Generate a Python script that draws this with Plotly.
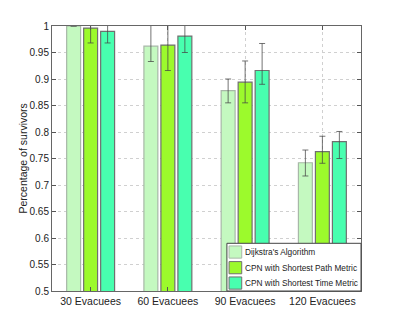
import plotly.graph_objects as go

categories = ["30 Evacuees", "60 Evacuees", "90 Evacuees", "120 Evacuees"]
series_names = ["Dijkstra's Algorithm", "CPN with Shortest Path Metric", "CPN with Shortest Time Metric"]

# survival ratio per group
dijkstra = [1.0, 0.962, 0.878, 0.742]
cpn_path = [0.996, 0.964, 0.894, 0.763]
cpn_time = [0.990, 0.981, 0.916, 0.782]

# error bars (upper / lower)
dijkstra_up = [0.0, 0.04, 0.022, 0.024]
dijkstra_down = [0.0, 0.029, 0.023, 0.025]
cpn_path_up = [0.028, 0.048, 0.040, 0.029]
cpn_path_down = [0.028, 0.048, 0.039, 0.022]
cpn_time_up = [0.022, 0.031, 0.051, 0.019]
cpn_time_down = [0.022, 0.031, 0.026, 0.032]

colors = ["#c4f9c0", "#9cfa2c", "#48ffaf"]
outline = ["#a8b8a8", "#707070", "#707070"]
font = "Liberation Sans, Arial"

fig = go.Figure()
data = [(dijkstra, dijkstra_up, dijkstra_down),
        (cpn_path, cpn_path_up, cpn_path_down),
        (cpn_time, cpn_time_up, cpn_time_down)]
for i, (vals, up, down) in enumerate(data):
    fig.add_trace(go.Bar(
        x=categories, y=vals, name=series_names[i], showlegend=False,
        marker=dict(color=colors[i], line=dict(color=outline[i], width=1.2)),
        error_y=dict(type="data", array=up, arrayminus=down, symmetric=False,
                     color="rgba(70,70,70,0.75)", thickness=1, width=3),
    ))

# matlab-style legend box in the lower right corner (paper coords)
fig.add_shape(type="rect", xref="paper", yref="paper", x0=0.566, x1=1.0, y0=0.0, y1=0.18,
              fillcolor="white", line=dict(color="#444", width=1), layer="above")
row_y = [0.147, 0.088, 0.030]
for i, name in enumerate(series_names):
    fig.add_shape(type="rect", xref="paper", yref="paper", x0=0.573, x1=0.614,
                  y0=row_y[i] - 0.023, y1=row_y[i] + 0.023,
                  fillcolor=colors[i], line=dict(color=outline[i], width=1), layer="above")
    fig.add_annotation(x=0.617, y=row_y[i], xref="paper", yref="paper", text=name,
                       showarrow=False, xanchor="left", yanchor="middle",
                       font=dict(family=font, size=8.3, color="#222"))

# y title as annotation so it sits closer to the tick labels
fig.add_annotation(x=0, y=0.5, xref="paper", yref="paper", text="Percentage of survivors",
                   showarrow=False, textangle=-90, xanchor="center", yanchor="middle", xshift=-30,
                   font=dict(family=font, size=10.5, color="#222"))

# page body has an 8px margin, so the figure is shrunk by that much
fig.update_layout(
    width=391, height=319,
    margin=dict(l=44, r=38, t=16, b=36),
    paper_bgcolor="white", plot_bgcolor="white",
    barmode="group", bargap=0.34, bargroupgap=0.18,
    font=dict(family=font, size=10.5, color="#222"),
)
fig.update_yaxes(
    range=[0.5, 1], dtick=0.05, tickformat="~g",
    ticks="inside", ticklen=4, tickcolor="#555", tickfont=dict(size=10),
    showline=True, linecolor="#666", linewidth=1, mirror="ticks",
    showgrid=True, gridcolor="#d0d0d0", griddash="dot", gridwidth=1,
    zeroline=False,
)
fig.update_xaxes(
    ticks="inside", ticklen=4, tickcolor="#555",
    showline=True, linecolor="#666", linewidth=1, mirror="ticks",
    showgrid=True, gridcolor="#d0d0d0", griddash="dot", gridwidth=1,
)

fig.write_html("out.html")
